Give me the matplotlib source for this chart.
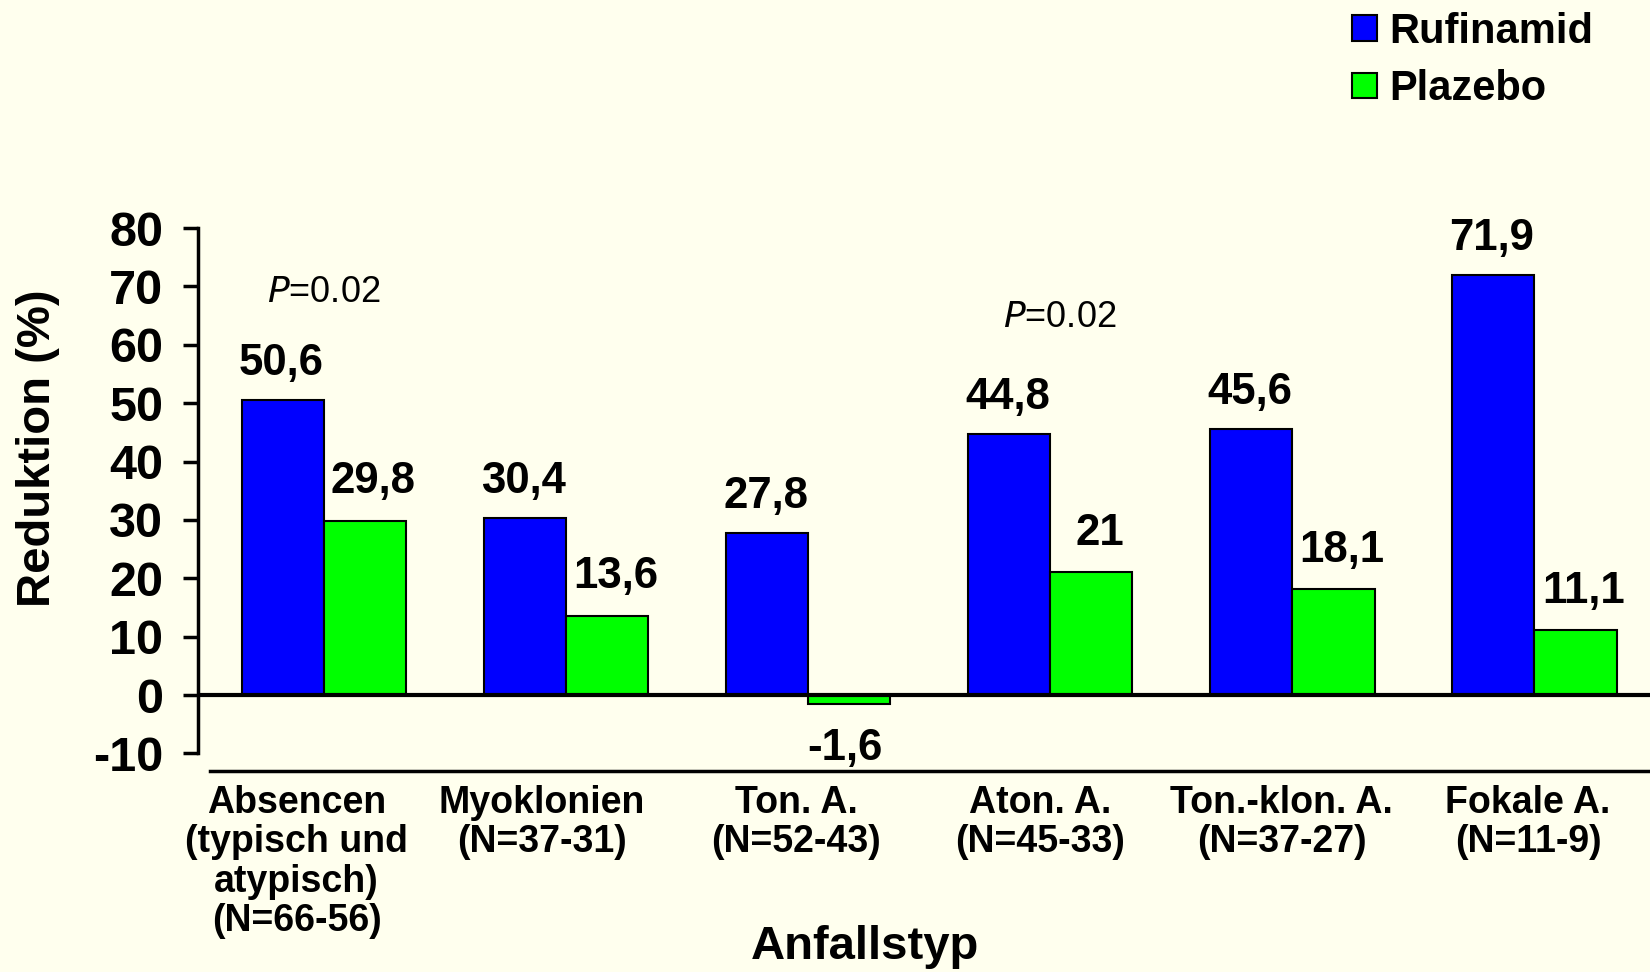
import matplotlib.pyplot as plt
import numpy as np
from matplotlib.patches import Patch

# Seizure types and group sizes (Rufinamid-Plazebo)
CATEGORIES = ['Absencen\n(typisch und\natypisch)\n(N=66-56)',
              'Myoklonien\n(N=37-31)',
              'Ton. A.\n(N=52-43)',
              'Aton. A.\n(N=45-33)',
              'Ton.-klon. A.\n(N=37-27)',
              'Fokale A.\n(N=11-9)']
RUFINAMID = [50.6, 30.4, 27.8, 44.8, 45.6, 71.9]
PLAZEBO = [29.8, 13.6, -1.6, 21.0, 18.1, 11.1]
RUF_LABELS = ['50,6', '30,4', '27,8', '44,8', '45,6', '71,9']
PLA_LABELS = ['29,8', '13,6', '-1,6', '21', '18,1', '11,1']
YTICKS = [-10, 0, 10, 20, 30, 40, 50, 60, 70, 80]
# significance notes: (group index, height)
PNOTES = [(0, 69.0), (3.04, 64.6)]

BG = '#FFFFEE'
FONT = 'Liberation Sans'
plt.rcParams['font.family'] = [FONT, 'DejaVu Sans']

fig = plt.figure(figsize=(16.5, 9.72), dpi=100, facecolor=BG)
ax = fig.add_axes([0.12, 0.2068, 0.88, 0.5586])
ax.set_facecolor(BG)

x = np.arange(len(CATEGORIES))
w = 0.34
ax.bar(x - w / 2, RUFINAMID, w, color='#0000FF', edgecolor='black', linewidth=1.5, zorder=2)
ax.bar(x + w / 2, PLAZEBO, w, color='#00FF00', edgecolor='black', linewidth=1.5, zorder=2)

# value labels above (or below) each bar
for xi, v, s in zip(x - w / 2, RUFINAMID, RUF_LABELS):
    ax.annotate(s, (xi, v), xytext=(-1, 18), textcoords='offset points',
                ha='center', va='baseline', fontsize=31.5, fontweight='bold')
for xi, v, s in zip(x + w / 2, PLAZEBO, PLA_LABELS):
    if v >= 0:
        ax.annotate(s, (xi, v), xytext=(6, 20), textcoords='offset points',
                    ha='center', va='baseline', fontsize=31.5, fontweight='bold')
    else:
        ax.annotate(s, (xi, v), xytext=(-3, -17), textcoords='offset points',
                    ha='center', va='top', fontsize=31.5, fontweight='bold')

for px, py in PNOTES:
    ax.text(px, py, r'$\mathit{P}$=0.02', ha='center', va='center', fontsize=26,
            fontfamily=FONT)

ax.axhline(0, color='black', linewidth=3, zorder=3)

ax.set_xlim(-0.52, 5.478)
ax.set_ylim(-13, 80)
ax.set_yticks(YTICKS)
ax.set_yticklabels([str(t) for t in YTICKS], fontsize=35, fontweight='bold')
ax.tick_params(axis='y', length=11, width=2.5, pad=14, direction='out')
# category labels sit slightly left of each pair of bars
label_shift = [-0.113, -0.1, -0.048, -0.043, -0.043, -0.026]
ax.set_xticks(x + np.array(label_shift))
ax.set_xticklabels(CATEGORIES, fontsize=27, fontweight='bold', linespacing=1.12)
ax.tick_params(axis='x', length=0, pad=10)

for side in ['top', 'right']:
    ax.spines[side].set_visible(False)
ax.spines['left'].set_bounds(-10, 80)
ax.spines['left'].set_linewidth(2.5)
ax.spines['bottom'].set_bounds(-0.47, 5.478)
ax.spines['bottom'].set_linewidth(2.5)

fig.text(0.023, 0.539, 'Reduktion (%)', rotation=90, ha='center', va='center',
         fontsize=34, fontweight='bold')
fig.text(0.524, 0.026, 'Anfallstyp', ha='center', va='center', fontsize=34, fontweight='bold')

handles = [Patch(facecolor='#0000FF', edgecolor='black', linewidth=1.5, label='Rufinamid'),
           Patch(facecolor='#00FF00', edgecolor='black', linewidth=1.5, label='Plazebo')]
fig.legend(handles=handles, loc='upper left', bbox_to_anchor=(0.802, 1.018),
           frameon=False, handlelength=0.58, handleheight=0.58, handletextpad=0.3,
           labelspacing=0.42, borderpad=0.2,
           prop={'family': FONT, 'size': 30, 'weight': 'bold'})

fig.savefig('out.png', dpi=100, facecolor=BG)
